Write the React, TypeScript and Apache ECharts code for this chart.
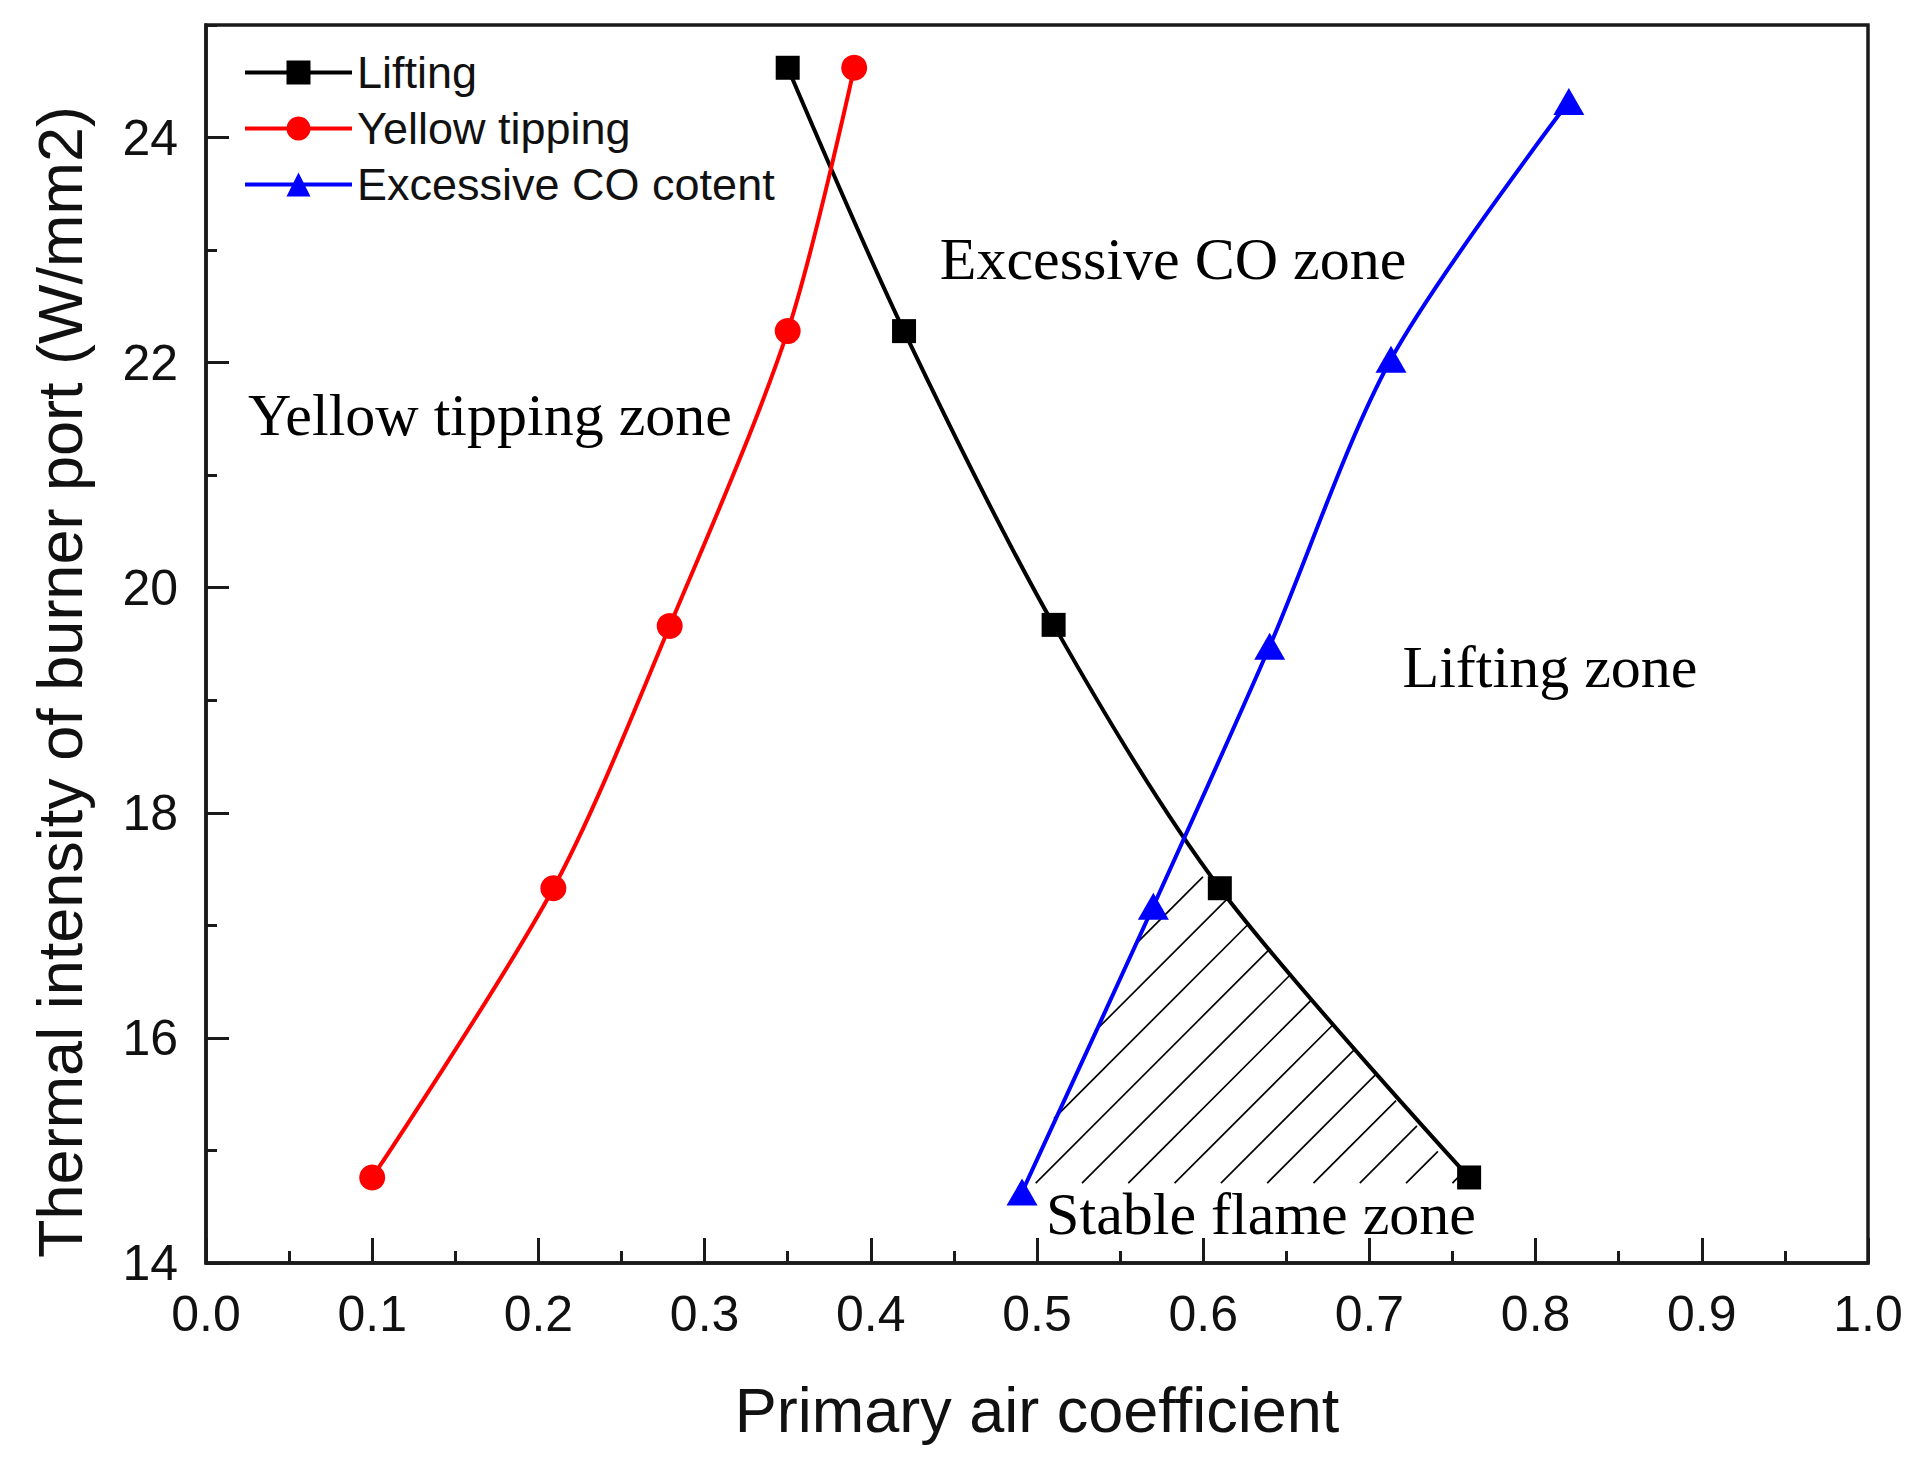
import React, { useEffect, useRef } from "react";
import * as echarts from "echarts";

// ---- data ----
const liftingX = [0.35, 0.42, 0.51, 0.61, 0.76];
const liftingY = [24.62, 22.28, 19.67, 17.33, 14.76];
const yellowX = [0.1, 0.209, 0.279, 0.35, 0.39];
const yellowY = [14.76, 17.33, 19.66, 22.28, 24.62];
const coX = [0.491, 0.57, 0.64, 0.713, 0.82];
const coY = [14.63, 17.17, 19.48, 22.03, 24.32];

// hatched "stable flame" region vertices (data coords)
const hatchX = [0.492, 0.57, 0.577, 0.603, 0.61, 0.757];
const hatchY = [14.71, 17.17, 17.43, 17.43, 17.34, 14.71];

const seriesNames = ["Lifting", "Yellow tipping", "Excessive CO cotent"];
const zoneLabels = ["Excessive CO zone", "Yellow tipping zone", "Lifting zone", "Stable flame zone"];

const sans = "'Liberation Sans', Arial, sans-serif";
const serif = "'Liberation Serif', 'Times New Roman', serif";
const ink = "#111";

const pairs = (xs: number[], ys: number[]) => xs.map((x, i) => [x, ys[i]]);

function hatchRender(params: any, api: any) {
  const pts = hatchX.map((x, i) => api.coord([x, hatchY[i]]));
  const sums = pts.map((p: number[]) => p[0] + p[1]);
  const minS = Math.min(...sums);
  const maxS = Math.max(...sums);
  const step = 46.3;
  const c0 = sums[0] + 12;
  const children: any[] = [];
  const kStart = Math.ceil((minS - c0) / step);
  for (let k = kStart; c0 + k * step < maxS; k++) {
    const c = c0 + k * step;
    if (c <= minS) continue;
    const hits: number[][] = [];
    for (let i = 0; i < pts.length; i++) {
      const p = pts[i];
      const q = pts[(i + 1) % pts.length];
      const sp = p[0] + p[1];
      const sq = q[0] + q[1];
      if (sp === sq) continue;
      if ((sp - c) * (sq - c) <= 0) {
        const t = (c - sp) / (sq - sp);
        hits.push([p[0] + t * (q[0] - p[0]), p[1] + t * (q[1] - p[1])]);
      }
    }
    if (hits.length >= 2) {
      hits.sort((a, b) => a[0] - b[0]);
      const a = hits[0];
      const b = hits[hits.length - 1];
      children.push({
        type: "line",
        shape: { x1: a[0], y1: a[1], x2: b[0], y2: b[1] },
        style: { stroke: "#000", lineWidth: 1.7 },
      });
    }
  }
  return { type: "group", children };
}

const lineCommon = {
  type: "line",
  smooth: 0.3,
  yAxisIndex: 0,
  z: 3,
};

const option: any = {
  animation: false,
  backgroundColor: "#ffffff",
  grid: {
    left: 206,
    right: 53,
    top: 25,
    bottom: 201,
    show: true,
    borderColor: "#1a1a1a",
    borderWidth: 3.5,
    backgroundColor: "transparent",
  },
  legend: {
    data: seriesNames,
    orient: "vertical",
    left: 243,
    top: 50,
    itemWidth: 107,
    itemHeight: 30,
    itemGap: 11,
    padding: 0,
    lineStyle: { width: 4 },
    textStyle: { fontFamily: sans, fontSize: 45, color: ink, lineHeight: 45 },
  },
  xAxis: {
    type: "value",
    min: 0,
    max: 1,
    interval: 0.1,
    name: "Primary air coefficient",
    nameLocation: "middle",
    nameGap: 115,
    nameTextStyle: { fontFamily: sans, fontSize: 63, color: ink },
    axisLine: { show: true, lineStyle: { color: "#1a1a1a", width: 3.5 } },
    axisTick: { show: true, inside: true, length: 25, lineStyle: { color: "#1a1a1a", width: 3 } },
    minorTick: { show: true, splitNumber: 2, length: 12, lineStyle: { color: "#1a1a1a", width: 3 } },
    axisLabel: {
      formatter: (v: number) => v.toFixed(1),
      margin: 26,
      fontFamily: sans,
      fontSize: 50,
      color: ink,
    },
    splitLine: { show: false },
    minorSplitLine: { show: false },
  },
  yAxis: [
    {
      type: "value",
      min: 14,
      max: 25,
      interval: 2,
      axisLine: { show: true, lineStyle: { color: "#1a1a1a", width: 3.5 } },
      axisTick: { show: true, inside: true, length: 23, lineStyle: { color: "#1a1a1a", width: 3 } },
      axisLabel: {
        showMaxLabel: false,
        margin: 28,
        fontFamily: sans,
        fontSize: 50,
        color: ink,
      },
      splitLine: { show: false },
    },
    {
      type: "value",
      min: 14,
      max: 25,
      interval: 1,
      position: "left",
      offset: 0,
      axisLine: { show: false },
      axisTick: { show: true, inside: true, length: 11, lineStyle: { color: "#1a1a1a", width: 3 } },
      axisLabel: { show: false },
      splitLine: { show: false },
    },
  ],
  graphic: [
    {
      type: "text",
      x: 60,
      y: 682,
      rotation: Math.PI / 2,
      style: {
        text: "Thermal intensity of burner port (W/mm2)",
        fontFamily: sans,
        fontSize: 63,
        fill: ink,
        textAlign: "center",
        textVerticalAlign: "middle",
        align: "center",
        verticalAlign: "middle",
      },
    },
    ...[
      [1173, 259],
      [490, 415],
      [1550, 667],
      [1261, 1214],
    ].map((p, i) => ({
      type: "text",
      x: p[0],
      y: p[1],
      z: 10,
      style: {
        text: zoneLabels[i],
        fontFamily: serif,
        fontSize: 60,
        fill: "#000",
        textAlign: "center",
        textVerticalAlign: "middle",
        align: "center",
        verticalAlign: "middle",
      },
    })),
  ],
  series: [
    {
      type: "custom",
      name: "hatch",
      coordinateSystem: "cartesian2d",
      silent: true,
      z: 1,
      renderItem: hatchRender,
      data: [[0.6, 16]],
    },
    {
      ...lineCommon,
      name: seriesNames[0],
      data: pairs(liftingX, liftingY),
      symbol: "rect",
      symbolSize: 24,
      lineStyle: { color: "#000", width: 4 },
      itemStyle: { color: "#000" },
    },
    {
      ...lineCommon,
      name: seriesNames[1],
      data: pairs(yellowX, yellowY),
      symbol: "circle",
      symbolSize: 26,
      lineStyle: { color: "#ff0000", width: 4 },
      itemStyle: { color: "#ff0000" },
    },
    {
      ...lineCommon,
      name: seriesNames[2],
      data: pairs(coX, coY),
      symbol: "triangle",
      symbolSize: [31, 27],
      lineStyle: { color: "#0000ff", width: 4 },
      itemStyle: { color: "#0000ff" },
    },
  ],
};

export default function App() {
  const ref = useRef<HTMLDivElement>(null);
  useEffect(() => {
    document.body.style.margin = "0";
    const chart = echarts.init(ref.current as HTMLDivElement, null, { renderer: "svg" });
    chart.setOption(option);
    return () => chart.dispose();
  }, []);
  return <div ref={ref} style={{ width: 1921, height: 1464 }} />;
}
